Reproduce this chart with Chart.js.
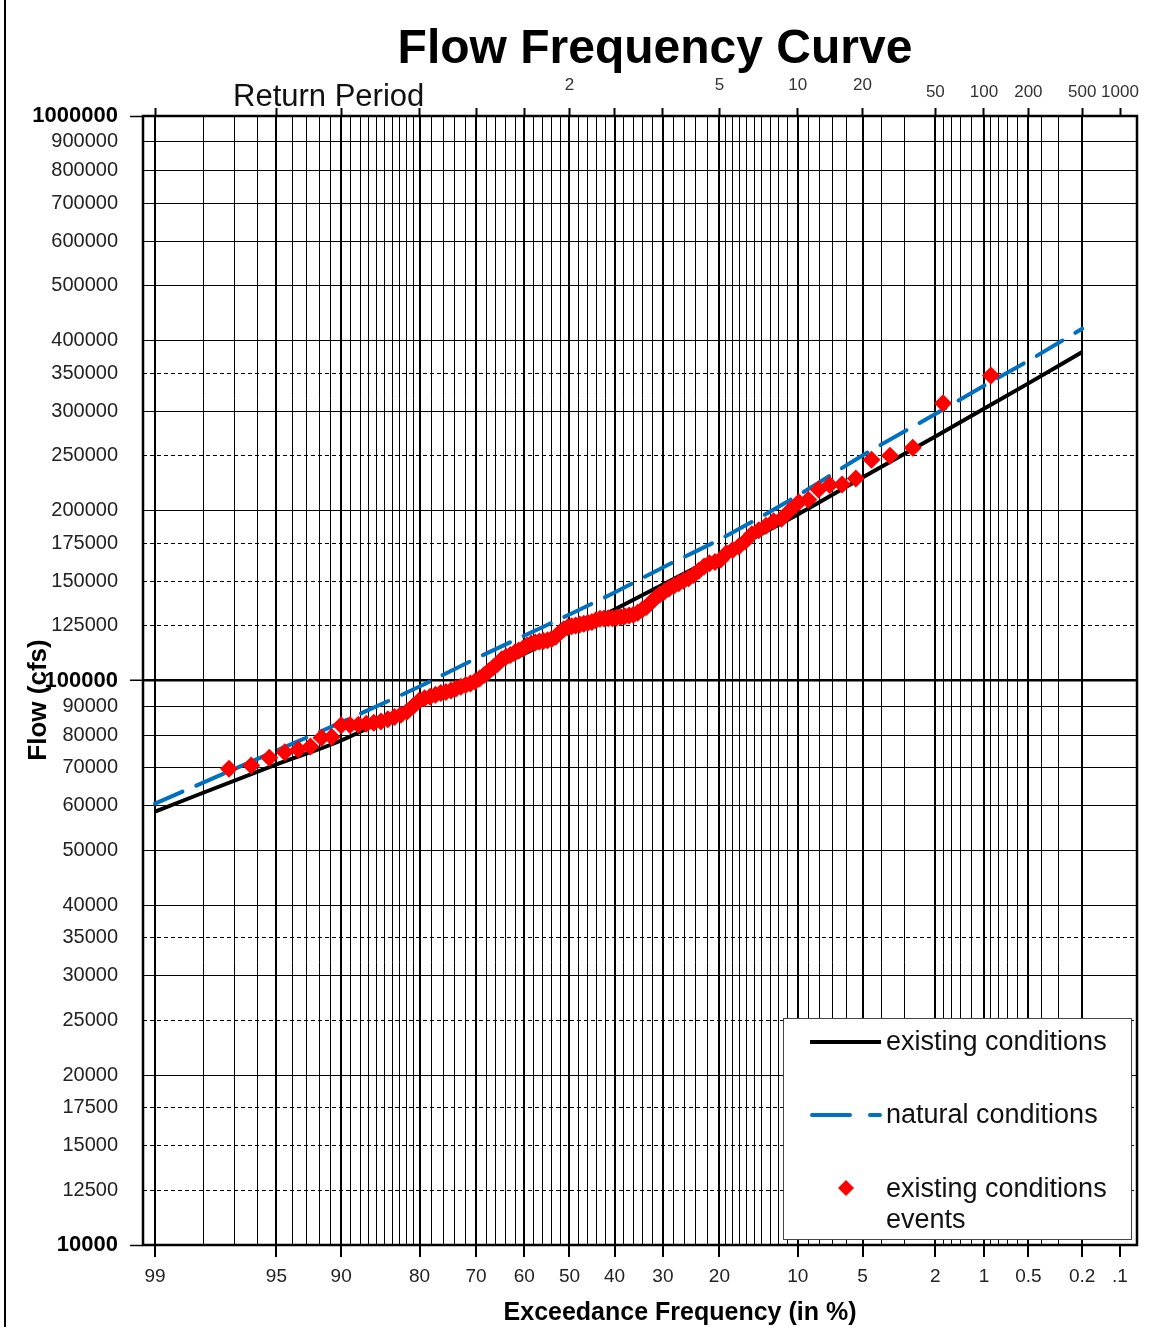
<!DOCTYPE html>
<html>
<head>
<meta charset="utf-8">
<title>Flow Frequency Curve</title>
<script src="https://cdn.jsdelivr.net/npm/chart.js@4.4.1/dist/chart.umd.min.js"></script>
<style>
  html, body { margin: 0; padding: 0; background: #fff; }
  #wrap { width: 1156px; height: 1327px; position: relative; }
</style>
</head>
<body>
<div id="wrap"><canvas id="myChart"></canvas></div>
<script>
// Flow frequency curve on normal-probability (x) / log (y) paper

const FONT = "'Liberation Sans', Arial, sans-serif";

// fitted curves, exceedance in % -> flow in cfs
const curveExceedance = [99, 95, 90, 80, 70, 60, 50, 40, 30, 20, 10, 5, 2, 1, 0.5, 0.2];
const existingFlow = [58600, 71000, 78300, 91400, 101600, 111600, 122100, 133600, 147900, 166500, 196900, 228900, 270500, 303000, 336000, 382000];
const naturalFlow  = [60500, 75100, 84300, 97600, 109400, 120100, 130900, 143200, 158600, 177700, 212700, 250400, 296500, 332800, 368500, 420000];

// observed events (plotting position in %, flow in cfs)
const eventExceedance = [0.9,1.8,2.7,3.6,4.5,5.4,6.3,7.2,8.1,9.0,9.9,10.8,11.7,12.6,13.5,14.4,15.3,16.2,17.1,18.0,
  18.9,19.8,20.7,21.6,22.5,23.4,24.3,25.2,26.1,27.0,27.9,28.8,29.7,30.6,31.5,32.4,33.3,34.2,35.1,36.0,
  36.9,37.8,38.7,39.6,40.5,41.4,42.3,43.2,44.1,45.0,45.9,46.8,47.7,48.6,49.5,50.4,51.3,52.2,53.1,54.0,
  54.9,55.8,56.7,57.6,58.5,59.4,60.3,61.2,62.1,63.0,63.9,64.8,65.7,66.6,67.5,68.4,69.3,70.2,71.1,72.0,
  72.9,73.8,74.7,75.6,76.5,77.4,78.3,79.2,80.1,81.0,81.9,82.8,83.7,84.6,85.5,86.4,87.3,88.2,89.1,90.0,
  90.9,91.8,92.7,93.6,94.5,95.4,96.3,97.2];
const eventFlow = [347000,310000,258500,250000,246000,228000,222500,222000,218000,209000,
  207000,200000,193500,191500,188000,184500,181500,176500,172800,170300,
  168000,163800,162200,161400,159200,156500,153800,151800,150200,148700,
  147200,145500,143800,142000,140000,137500,135000,133400,131800,130800,
  130300,130000,129600,129200,128900,128850,128800,128700,127800,127000,
  126500,126000,125600,125200,124800,124300,123300,121500,119500,118500,
  117900,117500,117200,116800,116300,115300,114000,113000,112000,111000,
  110200,109000,107000,105400,103800,102300,100800,99600,98800,98200,
  97500,96800,96000,95400,95000,94400,93600,93000,92000,90000,
  88100,87000,86200,85400,84600,84200,83800,83500,83400,83300,
  79400,79200,76400,75500,74600,73000,70700,69800];

// axis ticks
const majorExceedance = [99, 95, 90, 80, 70, 60, 50, 40, 30, 20, 10, 5, 2, 1, 0.5, 0.2, 0.1];
const majorLabels = ['99', '95', '90', '80', '70', '60', '50', '40', '30', '20', '10', '5', '2', '1', '0.5', '0.2', '.1'];
const minorExceedance = [98, 97, 96, 94, 93, 92, 91, 89, 88, 87, 86, 85, 84, 83, 82, 81, 78, 76, 74, 72,
  68, 66, 64, 62, 58, 56, 54, 52, 48, 46, 44, 42, 38, 36, 34, 32, 28, 26, 24, 22,
  19, 18, 17, 16, 15, 14, 13, 12, 11, 9, 8, 7, 6, 4, 3, 1.8, 1.6, 1.4, 1.2, 0.9, 0.8, 0.7, 0.6, 0.4, 0.3];
const returnPeriods = [2, 5, 10, 20, 50, 100, 200, 500, 1000];
const raisedReturnPeriods = [2, 5, 10, 20];
const flowTicks = [10000, 12500, 15000, 17500, 20000, 25000, 30000, 35000, 40000, 50000, 60000, 70000, 80000, 90000,
  100000, 125000, 150000, 175000, 200000, 250000, 300000, 350000, 400000, 500000, 600000, 700000, 800000, 900000, 1000000];
const dashedFlowTicks = [12500, 15000, 17500, 25000, 35000, 125000, 150000, 175000, 250000, 350000];
const boldFlowTicks = [10000, 100000, 1000000];

// inverse standard normal (Acklam), used only to place values on probability paper
function probit(p) {
  const a = [-3.969683028665376e+01, 2.209460984245205e+02, -2.759285104469687e+02, 1.383577518672690e+02, -3.066479806614716e+01, 2.506628277459239e+00];
  const b = [-5.447609879822406e+01, 1.615858368580409e+02, -1.556989798598866e+02, 6.680131188771972e+01, -1.328068155288572e+01];
  const c = [-7.784894002430293e-03, -3.223964580411365e-01, -2.400758277161838e+00, -2.549732539343734e+00, 4.374664141464968e+00, 2.938163982698783e+00];
  const d = [7.784695709041462e-03, 3.224671290700398e-01, 2.445134137142996e+00, 3.754408661907416e+00];
  const pl = 0.02425;
  let q, r;
  if (p < pl) {
    q = Math.sqrt(-2 * Math.log(p));
    return (((((c[0]*q+c[1])*q+c[2])*q+c[3])*q+c[4])*q+c[5]) / ((((d[0]*q+d[1])*q+d[2])*q+d[3])*q+1);
  }
  if (p > 1 - pl) {
    q = Math.sqrt(-2 * Math.log(1 - p));
    return -(((((c[0]*q+c[1])*q+c[2])*q+c[3])*q+c[4])*q+c[5]) / ((((d[0]*q+d[1])*q+d[2])*q+d[3])*q+1);
  }
  q = p - 0.5; r = q * q;
  return (((((a[0]*r+a[1])*r+a[2])*r+a[3])*r+a[4])*r+a[5])*q / (((((b[0]*r+b[1])*r+b[2])*r+b[3])*r+b[4])*r+1);
}
const toZ = exc => probit(1 - exc / 100);

// a little room beyond 99% and 0.1%
const zMin = toZ(99) - 0.0674;
const zMax = toZ(0.1) + 0.0954;

const pairs = (xs, ys) => xs.map((e, i) => ({ x: toZ(e), y: ys[i] }));

const bottomTicks = majorExceedance.map((e, i) => ({ value: toZ(e), kind: e === 0.1 ? 'edge' : 'major', text: majorLabels[i] }))
  .concat(minorExceedance.map(e => ({ value: toZ(e), kind: 'minor', text: '' })))
  .sort((p, q) => p.value - q.value);

const topTicks = majorExceedance.map(e => {
  const rp = returnPeriods.find(t => 100 / t === e);
  return { value: toZ(e), text: rp ? String(rp) : '', raised: raisedReturnPeriods.includes(rp) };
});

const clear = 'rgba(0,0,0,0)';

const decorations = {
  id: 'decorations',
  beforeDraw(chart) {
    const ctx = chart.ctx;
    ctx.save();
    ctx.fillStyle = '#fff';
    ctx.fillRect(0, 0, chart.width, chart.height);
    ctx.restore();
  },
  afterDraw(chart) {
    const ctx = chart.ctx;
    const a = chart.chartArea;
    ctx.save();

    // plot frame and outer left edge
    ctx.strokeStyle = '#000';
    ctx.lineWidth = 2.5;
    ctx.strokeRect(a.left, a.top, a.right - a.left, a.bottom - a.top);
    ctx.lineWidth = 2;
    ctx.beginPath(); ctx.moveTo(5, 0); ctx.lineTo(5, chart.height); ctx.stroke();

    // titles
    ctx.fillStyle = '#000';
    ctx.textAlign = 'center';
    ctx.textBaseline = 'alphabetic';
    ctx.font = 'bold 48px ' + FONT;
    ctx.fillText('Flow Frequency Curve', 655, 63);
    ctx.font = 'bold 25px ' + FONT;
    ctx.fillText('Exceedance Frequency (in %)', 680, 1320);
    ctx.textAlign = 'left';
    ctx.fillStyle = '#111';
    ctx.font = '31px ' + FONT;
    ctx.fillText('Return Period', 233, 106);

    ctx.save();
    ctx.translate(46, 700);
    ctx.rotate(-Math.PI / 2);
    ctx.textAlign = 'center';
    ctx.fillStyle = '#000';
    ctx.font = 'bold 26px ' + FONT;
    ctx.fillText('Flow (cfs)', 0, 0);
    ctx.restore();

    // legend box
    ctx.fillStyle = '#fff';
    ctx.fillRect(783, 1018, 349, 222);
    ctx.strokeStyle = '#444';
    ctx.lineWidth = 1;
    ctx.strokeRect(783.5, 1018.5, 348, 221);

    ctx.lineWidth = 4;
    ctx.strokeStyle = '#000';
    ctx.beginPath(); ctx.moveTo(810, 1042); ctx.lineTo(881, 1042); ctx.stroke();

    ctx.strokeStyle = '#0070C0';
    ctx.lineCap = 'round';
    ctx.setLineDash([38, 20]);
    ctx.beginPath(); ctx.moveTo(812, 1115); ctx.lineTo(880, 1115); ctx.stroke();
    ctx.setLineDash([]);
    ctx.lineCap = 'butt';

    ctx.fillStyle = '#FF0000';
    ctx.beginPath();
    ctx.moveTo(846, 1180); ctx.lineTo(854, 1188); ctx.lineTo(846, 1196); ctx.lineTo(838, 1188);
    ctx.closePath(); ctx.fill();

    ctx.fillStyle = '#111';
    ctx.textAlign = 'left';
    ctx.textBaseline = 'middle';
    ctx.font = '27px ' + FONT;
    ctx.fillText('existing conditions', 886, 1043);
    ctx.fillText('natural conditions', 886, 1116);
    ctx.fillText('existing conditions', 886, 1190);
    ctx.fillText('events', 886, 1221);

    ctx.restore();
  }
};

const ctx = document.getElementById('myChart');

const myChart = new Chart(ctx, {
  type: 'line',
  data: {
    datasets: [
      {
        label: 'existing conditions events',
        data: pairs(eventExceedance, eventFlow),
        showLine: false,
        pointStyle: 'rectRot',
        pointRadius: 9,
        pointBackgroundColor: '#FF0000',
        pointBorderColor: '#FF0000',
        pointBorderWidth: 0,
        order: 0
      },
      {
        label: 'natural conditions',
        data: pairs(curveExceedance, naturalFlow),
        borderColor: '#0070C0',
        borderWidth: 4,
        borderDash: [30, 15],
        borderCapStyle: 'round',
        pointRadius: 0,
        cubicInterpolationMode: 'monotone',
        order: 1
      },
      {
        label: 'existing conditions',
        data: pairs(curveExceedance, existingFlow),
        borderColor: '#000',
        borderWidth: 4,
        pointRadius: 0,
        cubicInterpolationMode: 'monotone',
        order: 2
      }
    ]
  },
  options: {
    responsive: true,
    maintainAspectRatio: false,
    animation: false,
    devicePixelRatio: 1,
    layout: { padding: { left: 0, right: 19, top: 0, bottom: 0 } },
    scales: {
      x: {
        type: 'linear',
        position: 'bottom',
        min: zMin,
        max: zMax,
        afterBuildTicks: s => { s.ticks = bottomTicks.map(t => Object.assign({}, t)); },
        afterFit: s => { s.height = 82; },
        ticks: {
          autoSkip: false,
          maxRotation: 0,
          padding: 8,
          color: '#222',
          font: { family: FONT, size: 19 },
          callback: (v, i, ticks) => ticks[i].text
        },
        grid: {
          color: c => (c.tick && c.tick.kind === 'edge') ? clear : '#000',
          lineWidth: c => (c.tick && c.tick.kind === 'minor') ? 1 : 2,
          tickColor: c => (c.tick && c.tick.kind !== 'minor') ? '#000' : clear,
          tickWidth: 2,
          tickLength: 12
        },
        border: { display: false }
      },
      x2: {
        type: 'linear',
        position: 'top',
        min: zMin,
        max: zMax,
        afterBuildTicks: s => { s.ticks = topTicks.map(t => Object.assign({}, t)); },
        afterFit: s => { s.height = 116; },
        ticks: {
          autoSkip: false,
          maxRotation: 0,
          padding: 12,
          color: '#333',
          font: { family: FONT, size: 17, lineHeight: '7px' },
          callback: (v, i, ticks) => ticks[i].raised ? [ticks[i].text, ''] : ticks[i].text
        },
        grid: {
          drawOnChartArea: false,
          tickColor: '#000',
          tickWidth: 2,
          tickLength: 8
        },
        border: { display: false }
      },
      y: {
        type: 'logarithmic',
        min: 10000,
        max: 1000000,
        afterBuildTicks: s => { s.ticks = flowTicks.map(v => ({ value: v })); },
        afterFit: s => { s.width = 143; },
        ticks: {
          autoSkip: false,
          padding: 12,
          color: c => (c.tick && boldFlowTicks.includes(c.tick.value)) ? '#000' : '#222',
          font: c => (c.tick && boldFlowTicks.includes(c.tick.value))
            ? { family: FONT, size: 22, weight: 'bold' }
            : { family: FONT, size: 20 },
          callback: v => String(v)
        },
        grid: {
          color: '#000',
          lineWidth: c => (c.tick && c.tick.value === 100000) ? 2.5 : 1,
          tickColor: c => (c.tick && boldFlowTicks.includes(c.tick.value)) ? '#000' : clear,
          tickWidth: 1.5,
          tickLength: 13
        },
        border: {
          display: false,
          dash: c => (c.tick && dashedFlowTicks.includes(c.tick.value)) ? [4, 3] : []
        }
      }
    },
    plugins: {
      legend: { display: false },
      tooltip: { enabled: false },
      title: { display: false }
    }
  },
  plugins: [decorations]
});
</script>
</body>
</html>
